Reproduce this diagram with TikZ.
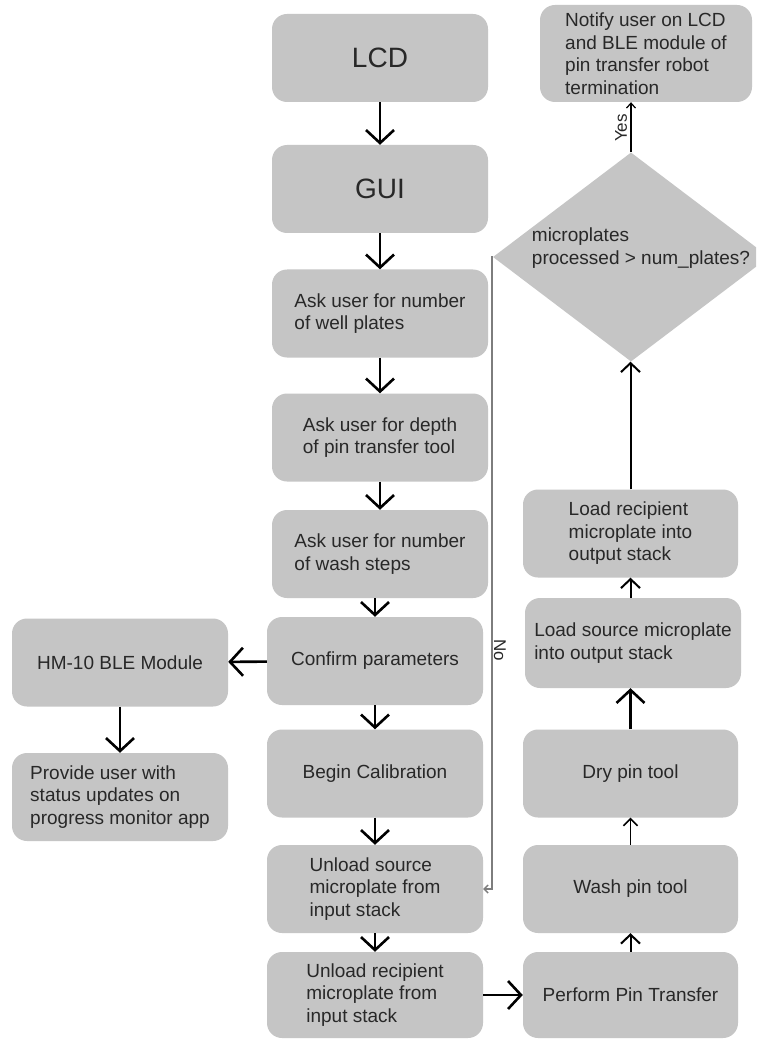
\documentclass[tikz,border=0pt]{standalone}
\usepackage{fontspec}
\setmainfont{Liberation Sans}
\usetikzlibrary{arrows.meta, shapes.geometric}
\definecolor{boxgray}{RGB}{197,197,197}
\definecolor{txt}{RGB}{40,40,40}
\definecolor{nogray}{RGB}{125,125,125}
\newcommand\myboxfont{\fontsize{19}{22.5}\selectfont}
\newcommand\mybigfont{\fontsize{28}{32}\selectfont}
\newcommand\mylblfont{\fontsize{17}{19}\selectfont}
\tikzset{
  box/.style={fill=boxgray, rounded corners=15pt, minimum width=216pt, minimum height=88pt,
    align=left, inner sep=0pt, font=\myboxfont, text=txt},
  big/.style={box, font=\mybigfont},
  dtext/.style={align=left, inner sep=0pt, font=\myboxfont, text=txt},
  lbl/.style={inner sep=0pt, font=\mylblfont, text=txt},
  arr/.style={draw=black, line width=2.6pt, -{Straight Barb[length=13pt, width=28pt]}},
  arrm/.style={draw=black, line width=2pt, -{Straight Barb[length=9pt, width=19pt]}},
  arrs/.style={draw=black, line width=1.5pt, -{Straight Barb[length=7pt, width=14pt]}},
  arrxs/.style={draw=black, line width=1.2pt, -{Straight Barb[length=5pt, width=9pt]}},
  noline/.style={draw=nogray, line width=1.4pt, -{Straight Barb[length=4pt, width=8pt]}},
}
\begin{document}
\begin{tikzpicture}[x=1pt, y=-1pt]
\useasboundingbox (0,0) rectangle (756,1040);
\clip (0,0) rectangle (756,1040);
\fill[white] (0,0) rectangle (756,1040);

% main column
\node[big] (lcd) at (380,58) {LCD};
\node[big] (gui) at (380,189) {GUI};
\node[box] (well) at (380,313.5) {Ask user for number\\of well plates};
\node[box] (depth) at (380,437.5) {Ask user for depth\\of pin transfer tool};
\node[box] (wash) at (380,554) {Ask user for number\\of wash steps};
\node[box] (conf) at (375,661) {Confirm parameters};
\node[box] (cal) at (375,773.5) {Begin Calibration};
\node[box] (usrc) at (375,889) {Unload source\\microplate from\\input stack};
\node[box, minimum height=86pt] (urec) at (375,995) {Unload recipient\\microplate from\\input stack};

% right column
\node[box, minimum width=215pt, minimum height=86pt] (perf) at (630.5,995) {Perform Pin Transfer};
\node[box, minimum width=215pt] (wpin) at (630.5,889) {Wash pin tool};
\node[box, minimum width=215pt] (dry) at (630.5,773.5) {Dry pin tool};
\node[box, minimum height=90pt] (lsrc) at (633,643) {Load source microplate\\into output stack};
\node[box, minimum width=215pt] (lrec) at (630.5,533.5) {Load recipient\\microplate into\\output stack};
\node[diamond, fill=boxgray, minimum width=276pt, minimum height=209pt, inner sep=0pt] (dec) at (631,257) {};
\node[dtext] (dectext) at (641,248) {microplates\\processed > num\_plates?};
\node[box, minimum width=212pt, minimum height=97pt] (notify) at (646,53.5) {Notify user on LCD\\and BLE module of\\pin transfer robot\\termination};

% left column
\node[box] (hm) at (120,662.5) {HM-10 BLE Module};
\node[box] (prov) at (120,797) {Provide user with\\status updates on\\progress monitor app};

% connectors
\draw[arr] (lcd) -- (gui);
\draw[arr] (gui) -- (well);
\draw[arr] (well) -- (depth);
\draw[arr] (depth) -- (wash);
\draw[arr] (wash.south -| conf.north) -- (conf.north);
\draw[arr] (conf) -- (cal);
\draw[arr] (cal) -- (usrc);
\draw[arr] (usrc) -- (urec);
\draw[arr] (urec) -- (perf);
\draw[arrm] (perf) -- (wpin);
\draw[arrs] (wpin) -- (dry);
\draw[arr] (dry.north) -- (dry.north |- lsrc.south);
\draw[arrm] (lsrc.north -| lrec.north) -- (lrec.south);
\draw[arrm] (lrec.north) -- (lrec.north |- dec.south);
\draw[arrxs] (dec.north) -- (dec.north |- notify.south);
\draw[noline] (dec.west) -- ++(-1,0) |- (usrc.east);
\draw[arr] (conf) -- (hm);
\draw[arr] (hm) -- (prov);

% labels
\node[lbl, rotate=90] (yes) at (621,128) {Yes};
\node[lbl, rotate=-90] (no) at (500,650) {No};
\end{tikzpicture}
\end{document}
